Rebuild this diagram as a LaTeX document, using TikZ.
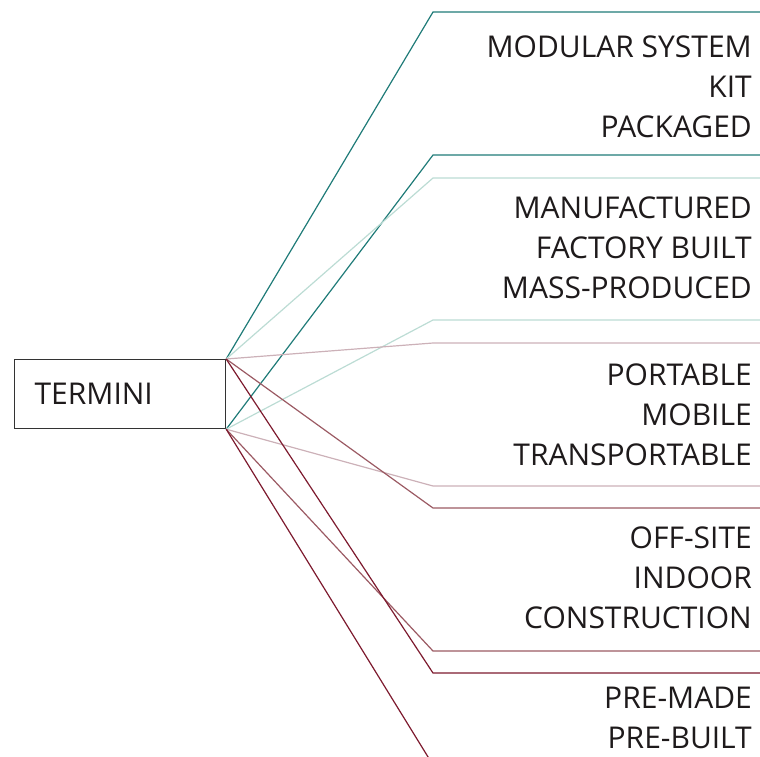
\documentclass[tikz,border=0pt]{standalone}
\usepackage{fontspec}
\setmainfont{Open Sans}
\definecolor{ink}{HTML}{1E1A1B}
\definecolor{boxline}{HTML}{333333}
\definecolor{cteal}{HTML}{1F7B78}
\definecolor{clteal}{HTML}{BCDCD4}
\definecolor{clpink}{HTML}{CCB1B8}
\definecolor{cmauve}{HTML}{9B5A63}
\definecolor{cwine}{HTML}{7D1A2E}
\begin{document}
\begin{tikzpicture}[x=1pt,y=-1pt,
  branch/.style={line width=1.2pt},
  term/.style={anchor=base east, inner sep=0pt, font=\fontsize{30}{36}\selectfont, text=ink},
  rootbox/.style={draw=boxline, line width=1.2pt, anchor=north west, minimum width=211pt,
    minimum height=69pt, text width=171pt, inner xsep=19pt, inner ysep=0pt, align=left,
    font=\fontsize{30}{36}\selectfont, text=ink}]
\useasboundingbox (0,0) rectangle (760,756);
\clip (0,0) rectangle (760,756);

% root box
\node[rootbox] (termini) at (14,359) {TERMINI};

% bend points and right ends of each bracket
\foreach \n/\t/\b in {1/12/155, 2/178/320, 3/343/486, 4/508/651, 5/673/765} {
  \coordinate (bt\n) at (433,\t);
  \coordinate (et\n) at (760,\t);
  \coordinate (bb\n) at (433,\b);
  \coordinate (eb\n) at (760,\b);
}

% brackets
\draw[branch, cteal]  (termini.north east) -- (bt1) -- (et1);
\draw[branch, cteal]  (termini.south east) -- (bb1) -- (eb1);
\draw[branch, clteal] (termini.north east) -- (bt2) -- (et2);
\draw[branch, clteal] (termini.south east) -- (bb2) -- (eb2);
\draw[branch, clpink] (termini.north east) -- (bt3) -- (et3);
\draw[branch, clpink] (termini.south east) -- (bb3) -- (eb3);
\draw[branch, cmauve] (termini.north east) -- (bt4) -- (et4);
\draw[branch, cmauve] (termini.south east) -- (bb4) -- (eb4);
\draw[branch, cwine]  (termini.north east) -- (bt5) -- (et5);
\draw[branch, cwine]  (termini.south east) -- (bb5) -- (eb5);

% terms
\node[term] (m1) at (752,57)  {MODULAR SYSTEM};
\node[term] (m2) at (752,97)  {KIT};
\node[term] (m3) at (752,137) {PACKAGED};
\node[term] (f1) at (752,218) {MANUFACTURED};
\node[term] (f2) at (752,258) {FACTORY BUILT};
\node[term] (f3) at (752,298) {MASS-PRODUCED};
\node[term] (p1) at (752,385) {PORTABLE};
\node[term] (p2) at (752,425) {MOBILE};
\node[term] (p3) at (752,465) {TRANSPORTABLE};
\node[term] (o1) at (752,548) {OFF-SITE};
\node[term] (o2) at (752,588) {INDOOR};
\node[term] (o3) at (752,628) {CONSTRUCTION};
\node[term] (r1) at (752,708) {PRE-MADE};
\node[term] (r2) at (752,748) {PRE-BUILT};
\end{tikzpicture}
\end{document}
